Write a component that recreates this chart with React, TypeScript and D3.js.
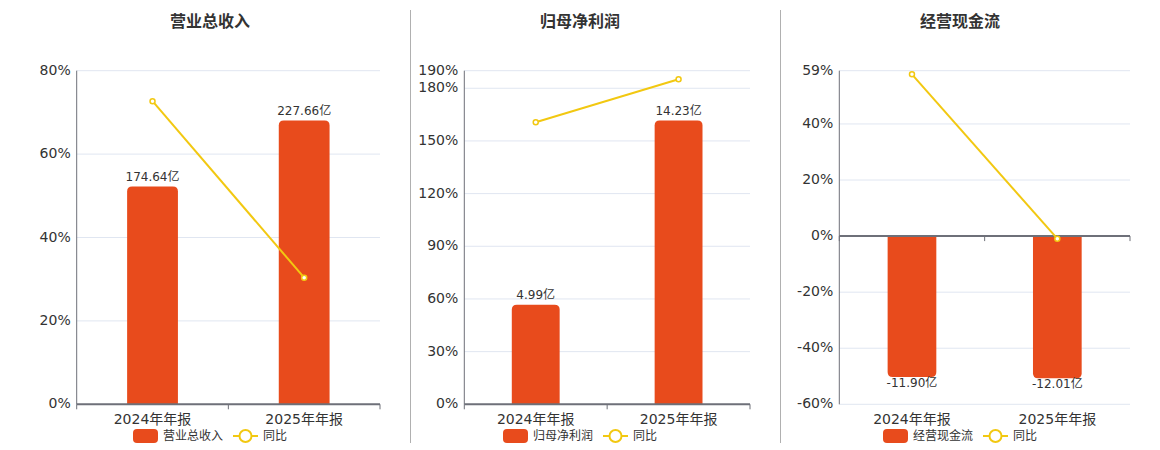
import React from "react";
import * as d3 from "d3";

// categories and values
const categories = ["2024年年报", "2025年年报"];
const titles = ["营业总收入", "归母净利润", "经营现金流"];

const revenue = [174.64, 227.66];
const revenueYoy = [72.7, 30.36];
const netProfit = [4.99, 14.23];
const netProfitYoy = [160.6, 185.17];
const cashFlow = [-11.9, -12.01];
const cashFlowYoy = [57.7, -0.92];

const revenueTicks = [0, 20, 40, 60, 80];
const netProfitTicks = [0, 30, 60, 90, 120, 150, 180, 190];
const cashFlowTicks = [-60, -40, -20, 0, 20, 40, 59];

const BAR_COLOR = "#E84B1C";
const LINE_COLOR = "#F2C811";
const TEXT = "#333";
const FONT = "'DejaVu Sans', 'Noto Sans CJK SC', sans-serif";

interface PanelProps {
  title: string;
  bars: number[];
  yoy: number[];
  ticks: number[];
  barDomain: [number, number];
  x0: number;
  x1: number;
  center: number;
}

const TOP = 70.7;
const BOTTOM = 404.3;

const barPath = (x: number, w: number, y0: number, y1: number, r: number) => {
  // rounded on the far end (y1)
  const down = y1 > y0;
  const h = Math.abs(y1 - y0);
  const rr = Math.min(r, h / 2, w / 2);
  if (!down) {
    return `M${x},${y0}V${y1 + rr}Q${x},${y1} ${x + rr},${y1}H${x + w - rr}Q${x + w},${y1} ${x + w},${y1 + rr}V${y0}Z`;
  }
  return `M${x},${y0}V${y1 - rr}Q${x},${y1} ${x + rr},${y1}H${x + w - rr}Q${x + w},${y1} ${x + w},${y1 - rr}V${y0}Z`;
};

const Panel = ({ title, bars, yoy, ticks, barDomain, x0, x1, center }: PanelProps) => {
  const xScale = d3.scaleBand().domain(categories).range([x0, x1]);
  const yExtent = d3.extent(ticks) as [number, number];
  const yScale = d3.scaleLinear().domain(yExtent).range([BOTTOM, TOP]);
  const barScale = d3.scaleLinear().domain(barDomain).range([BOTTOM, TOP]);
  const bw = xScale.bandwidth() * 0.335;
  const zeroY = yScale(0);

  const line = d3
    .line<number>()
    .x((_, i) => (xScale(categories[i]) || 0) + xScale.bandwidth() / 2)
    .y((d) => yScale(d));

  const legendW = 25 + 5 + title.length * 12 + 10 + 25 + 5 + 24;
  const lx = center - legendW / 2;
  const ly = 436;

  return (
    <g>
      <text
        x={center}
        y={22}
        textAnchor="middle"
        dominantBaseline="middle"
        fontSize={16}
        fontWeight="bold"
        fill={TEXT}
      >
        {title}
      </text>

      {/* grid */}
      {ticks.map((t) => (
        <line key={t} x1={x0} x2={x1} y1={yScale(t)} y2={yScale(t)} stroke="#E0E6F1" strokeWidth={1} />
      ))}
      {ticks.map((t) => (
        <text
          key={"l" + t}
          x={x0 - 6}
          y={yScale(t)}
          textAnchor="end"
          dominantBaseline="middle"
          fontSize={14}
          fill={TEXT}
        >
          {t}%
        </text>
      ))}
      <line x1={x0} x2={x0} y1={TOP} y2={BOTTOM} stroke="#6E7079" strokeWidth={1} />

      {/* bars */}
      {bars.map((v, i) => {
        const cx = (xScale(categories[i]) || 0) + xScale.bandwidth() / 2;
        const yv = barScale(v);
        const y0 = barScale(0);
        return (
          <g key={i}>
            <path d={barPath(cx - bw / 2, bw, y0, yv, 5)} fill={BAR_COLOR} />
            <text
              x={cx}
              y={v >= 0 ? yv - 9 : yv + 6}
              textAnchor="middle"
              dominantBaseline="middle"
              fontSize={12}
              fill={TEXT}
            >
              {v.toFixed(2)}亿
            </text>
          </g>
        );
      })}

      {/* x axis */}
      <line x1={x0} x2={x1} y1={zeroY} y2={zeroY} stroke="#6E7079" strokeWidth={2} />
      {[x0, x0 + xScale.bandwidth(), x1].map((tx, i) => (
        <line key={i} x1={tx} x2={tx} y1={zeroY} y2={zeroY + 5} stroke="#6E7079" strokeWidth={1} />
      ))}
      {categories.map((c) => (
        <text
          key={c}
          x={(xScale(c) || 0) + xScale.bandwidth() / 2}
          y={420}
          textAnchor="middle"
          dominantBaseline="middle"
          fontSize={14}
          fill={TEXT}
        >
          {c}
        </text>
      ))}

      {/* yoy line */}
      <path d={line(yoy) || ""} fill="none" stroke={LINE_COLOR} strokeWidth={2} />
      {yoy.map((v, i) => (
        <circle
          key={i}
          cx={(xScale(categories[i]) || 0) + xScale.bandwidth() / 2}
          cy={yScale(v)}
          r={2.5}
          fill="#fff"
          stroke={LINE_COLOR}
          strokeWidth={1.5}
        />
      ))}

      {/* legend */}
      <rect x={lx} y={ly - 7} width={25} height={14} rx={4} fill={BAR_COLOR} />
      <text x={lx + 30} y={ly} dominantBaseline="middle" fontSize={12} fill={TEXT}>
        {title}
      </text>
      <line
        x1={lx + 30 + title.length * 12 + 10}
        x2={lx + 30 + title.length * 12 + 35}
        y1={ly}
        y2={ly}
        stroke={LINE_COLOR}
        strokeWidth={2}
      />
      <circle cx={lx + 30 + title.length * 12 + 22.5} cy={ly} r={6} fill="#fff" stroke={LINE_COLOR} strokeWidth={2} />
      <text x={lx + 30 + title.length * 12 + 40} y={ly} dominantBaseline="middle" fontSize={12} fill={TEXT}>
        同比
      </text>
    </g>
  );
};

const App = () => {
  return (
    <svg
      width={1160}
      height={450}
      style={{ position: "absolute", left: 0, top: 0, fontFamily: FONT }}
    >
      <Panel
        title={titles[0]}
        bars={revenue}
        yoy={revenueYoy}
        ticks={revenueTicks}
        barDomain={[0, 267.5]}
        x0={76.7}
        x1={380}
        center={210}
      />
      <line x1={410.5} x2={410.5} y1={10} y2={443} stroke="#B0B0B0" strokeWidth={1} />
      <Panel
        title={titles[1]}
        bars={netProfit}
        yoy={netProfitYoy}
        ticks={netProfitTicks}
        barDomain={[0, 16.72]}
        x0={464.3}
        x1={750}
        center={580}
      />
      <line x1={780.5} x2={780.5} y1={10} y2={443} stroke="#B0B0B0" strokeWidth={1} />
      <Panel
        title={titles[2]}
        bars={cashFlow}
        yoy={cashFlowYoy}
        ticks={cashFlowTicks}
        barDomain={[-14.2, 13.96]}
        x0={839.3}
        x1={1130}
        center={960}
      />
    </svg>
  );
};

export default App;
